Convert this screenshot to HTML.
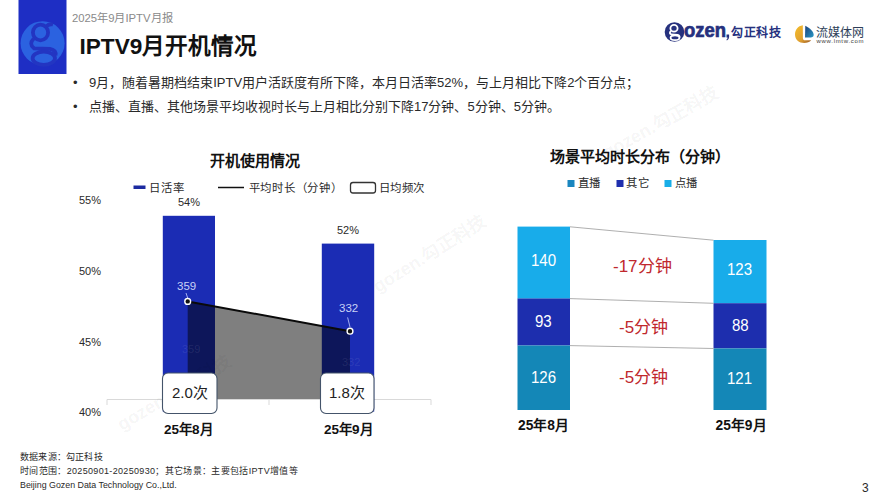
<!DOCTYPE html>
<html lang="zh-CN">
<head>
<meta charset="utf-8">
<style>
html,body{margin:0;padding:0;}
body{width:889px;height:500px;overflow:hidden;background:#fff;position:relative;font-family:"Liberation Sans",sans-serif;color:#2a2a2a;}
.a{position:absolute;white-space:nowrap;line-height:1;}
svg.a{left:0;top:0;}
</style>
</head>
<body>
<!-- header logo block -->
<svg class="a" width="889" height="500" viewBox="0 0 889 500">
  <rect x="18.5" y="0" width="48" height="74" fill="#1e2ec4"/>
  <circle cx="42.6" cy="43.2" r="22" fill="#2b62e0"/>
  <g fill="none" stroke="#2335c2" stroke-width="3.8">
    <ellipse cx="40.5" cy="32.5" rx="7.6" ry="7.8"/>
    <path d="M33.8 38.5 Q28.5 44 34 48.3 L50 48.8 Q56.5 50 55.5 55.5"/>
    <ellipse cx="43.8" cy="58.3" rx="11.2" ry="6.6"/>
    <path d="M46 26.5 Q49 23.5 53 24.5"/>
  </g>
</svg>

<div class="a" style="left:72px;top:12.8px;font-size:11.3px;color:#8a8a8a;">2025年9月IPTV月报</div>
<div class="a" style="left:79.5px;top:35.5px;font-size:22.6px;font-weight:bold;color:#111;">IPTV9月开机情况</div>

<!-- bullets -->
<div class="a" style="left:73px;top:76px;font-size:13px;">•</div>
<div class="a" style="left:89px;top:76px;font-size:13px;">9月，随着暑期档结束IPTV用户活跃度有所下降，本月日活率52%，与上月相比下降2个百分点；</div>
<div class="a" style="left:73px;top:100px;font-size:13px;">•</div>
<div class="a" style="left:89px;top:100px;font-size:13px;">点播、直播、其他场景平均收视时长与上月相比分别下降17分钟、5分钟、5分钟。</div>

<!-- left chart -->
<div class="a" style="left:210px;top:153px;font-size:15px;font-weight:bold;color:#111;">开机使用情况</div>
<div class="a" style="left:148.5px;top:183px;font-size:11.4px;letter-spacing:1px;">日活率</div>
<div class="a" style="left:248.5px;top:183px;font-size:11.4px;letter-spacing:0.75px;">平均时长（分钟）</div>
<div class="a" style="left:378.5px;top:183px;font-size:11.4px;letter-spacing:0.6px;">日均频次</div>

<svg class="a" width="889" height="500" viewBox="0 0 889 500">
  <rect x="133.5" y="185.5" width="12" height="3.5" fill="#1c2aa0"/>
  <line x1="218" y1="187.5" x2="244" y2="187.5" stroke="#111" stroke-width="1.5"/>
  <rect x="350.5" y="182.5" width="25" height="10.5" rx="2.5" fill="#fff" stroke="#333" stroke-width="1.3"/>
  <!-- axis -->
  <line x1="107" y1="399.5" x2="431" y2="399.5" stroke="#d9d9d9" stroke-width="1"/>
  <line x1="107" y1="399.5" x2="107" y2="405" stroke="#d9d9d9" stroke-width="1"/>
  <line x1="269" y1="399.5" x2="269" y2="405" stroke="#d9d9d9" stroke-width="1"/>
  <line x1="431" y1="399.5" x2="431" y2="405" stroke="#d9d9d9" stroke-width="1"/>
  <!-- bars -->
  <rect x="162.8" y="215.8" width="52.2" height="196" fill="#1b2cb4"/>
  <rect x="321.8" y="243.6" width="52.4" height="168" fill="#1b2cb4"/>
  <!-- area -->
  <polygon points="187.7,301.4 350,331.2 350,399 187.7,399" fill="rgba(0,0,0,0.5)"/>
  <line x1="187.7" y1="301.4" x2="350" y2="331.2" stroke="#0a0a0a" stroke-width="2"/>
  <line x1="186" y1="293" x2="187.7" y2="298" stroke="#c8d0ff" stroke-width="0.8"/>
  <line x1="347.6" y1="317.4" x2="350" y2="327" stroke="#c8d0ff" stroke-width="0.8"/>
  <circle cx="187.7" cy="301.4" r="2.9" fill="#111" stroke="#fff" stroke-width="1.4"/>
  <circle cx="350" cy="331.2" r="2.9" fill="#111" stroke="#fff" stroke-width="1.4"/>
</svg>
<!-- watermarks -->
<svg class="a" width="889" height="500" viewBox="0 0 889 500" style="pointer-events:none">
  <g font-family="Liberation Sans" font-weight="bold" font-size="18" fill="rgba(0,0,0,0.05)">
    <text transform="translate(122,431) rotate(-31)">gozen.勾正科技</text>
    <text transform="translate(378,293) rotate(-32)">gozen.勾正科技</text>
    <text transform="translate(607,159) rotate(-29)">gozen.勾正科技</text>
  </g>
</svg>
<svg class="a" width="889" height="500" viewBox="0 0 889 500">
  <rect x="162.5" y="373" width="54.5" height="40.5" rx="5.5" fill="#fff" stroke="#44546a" stroke-width="1.1"/>
  <rect x="320.5" y="373" width="53.5" height="40.5" rx="5.5" fill="#fff" stroke="#44546a" stroke-width="1.1"/>
</svg>
<div class="a" style="left:79px;top:195px;font-size:11px;">55%</div>
<div class="a" style="left:79px;top:265.5px;font-size:11px;">50%</div>
<div class="a" style="left:79px;top:336.5px;font-size:11px;">45%</div>
<div class="a" style="left:79px;top:407px;font-size:11px;">40%</div>
<div class="a" style="left:178px;top:197px;font-size:11px;">54%</div>
<div class="a" style="left:337px;top:225px;font-size:11px;">52%</div>
<div class="a" style="left:177px;top:281px;font-size:11.5px;color:#c9d1f6;">359</div>
<div class="a" style="left:339px;top:303px;font-size:11.5px;color:#c9d1f6;">332</div>
<div class="a" style="left:182px;top:344px;font-size:11px;color:rgba(255,255,255,0.09);">359</div>
<div class="a" style="left:342px;top:357px;font-size:11px;color:rgba(255,255,255,0.09);">332</div>
<div class="a" style="left:172px;top:385px;font-size:15px;color:#222;">2.0次</div>
<div class="a" style="left:329px;top:385px;font-size:15px;color:#222;">1.8次</div>
<div class="a" style="left:164px;top:423px;font-size:13.5px;font-weight:bold;color:#111;">25年8月</div>
<div class="a" style="left:324px;top:423px;font-size:13.5px;font-weight:bold;color:#111;">25年9月</div>

<!-- right chart -->
<div class="a" style="left:550px;top:148.5px;font-size:15px;font-weight:bold;color:#111;">场景平均时长分布（分钟）</div>
<svg class="a" width="889" height="500" viewBox="0 0 889 500">
  <rect x="567.5" y="180" width="7" height="7" fill="#1a86bf"/>
  <rect x="616.5" y="180" width="7" height="7" fill="#1f2fae"/>
  <rect x="664.5" y="180" width="7" height="7" fill="#19aee8"/>
  <rect x="517.5" y="226.6" width="52.5" height="72" fill="#18acea"/>
  <rect x="517.5" y="298.5" width="52.5" height="47" fill="#1d2eae"/>
  <rect x="517.5" y="345.5" width="52.5" height="64.5" fill="#1487b7"/>
  <rect x="713.5" y="240" width="53" height="63.2" fill="#18acea"/>
  <rect x="713.5" y="303.2" width="53" height="45.2" fill="#1d2eae"/>
  <rect x="713.5" y="348.4" width="53" height="61.6" fill="#1487b7"/>
  <line x1="570" y1="226.8" x2="713.5" y2="240.2" stroke="#9a9a9a" stroke-width="0.8"/>
  <line x1="570" y1="298.6" x2="713.5" y2="303.3" stroke="#9a9a9a" stroke-width="0.8"/>
  <line x1="570" y1="345.6" x2="713.5" y2="348.5" stroke="#9a9a9a" stroke-width="0.8"/>
</svg>
<div class="a" style="left:577.5px;top:178px;font-size:11.4px;letter-spacing:0.5px;">直播</div>
<div class="a" style="left:626px;top:178px;font-size:11.4px;letter-spacing:0.5px;">其它</div>
<div class="a" style="left:674.5px;top:178px;font-size:11.4px;letter-spacing:0.5px;">点播</div>
<div class="a" style="left:530.5px;top:252.5px;font-size:16px;color:#fff;transform:scaleX(0.94);transform-origin:0 0;">140</div>
<div class="a" style="left:535px;top:313.5px;font-size:16px;color:#fff;transform:scaleX(0.94);transform-origin:0 0;">93</div>
<div class="a" style="left:530.5px;top:369.5px;font-size:16px;color:#fff;transform:scaleX(0.94);transform-origin:0 0;">126</div>
<div class="a" style="left:727px;top:261.5px;font-size:16px;color:#fff;transform:scaleX(0.94);transform-origin:0 0;">123</div>
<div class="a" style="left:731.5px;top:317.5px;font-size:16px;color:#fff;transform:scaleX(0.94);transform-origin:0 0;">88</div>
<div class="a" style="left:727px;top:370.5px;font-size:16px;color:#fff;transform:scaleX(0.94);transform-origin:0 0;">121</div>
<div class="a" style="left:613px;top:257.5px;font-size:17px;color:#c0282d;">-17分钟</div>
<div class="a" style="left:619px;top:318.5px;font-size:17px;color:#c0282d;">-5分钟</div>
<div class="a" style="left:619px;top:368.5px;font-size:17px;color:#c0282d;">-5分钟</div>
<div class="a" style="left:518px;top:419px;font-size:13.8px;font-weight:bold;color:#111;">25年8月</div>
<div class="a" style="left:715.5px;top:419px;font-size:13.8px;font-weight:bold;color:#111;">25年9月</div>

<!-- footer -->
<div class="a" style="left:20px;top:452.5px;font-size:9px;letter-spacing:0.2px;">数据来源：勾正科技</div>
<div class="a" style="left:20px;top:466.5px;font-size:9px;letter-spacing:0.33px;">时间范围：20250901-20250930；其它场景：主要包括IPTV增值等</div>
<div class="a" style="left:20px;top:481px;font-size:8.85px;">Beijing Gozen Data Technology Co.,Ltd.</div>
<div class="a" style="left:862px;top:482px;font-size:12px;">3</div>

<!-- top-right logos -->
<svg class="a" width="889" height="500" viewBox="0 0 889 500">
  <defs>
    <linearGradient id="og" x1="0" y1="0" x2="1" y2="1">
      <stop offset="0" stop-color="#f4bd2a"/>
      <stop offset="0.6" stop-color="#e0a030"/>
      <stop offset="1" stop-color="#9a5a25"/>
    </linearGradient>
    <linearGradient id="bg2" x1="0" y1="0" x2="1" y2="1">
      <stop offset="0" stop-color="#1a3f7a"/>
      <stop offset="1" stop-color="#2a9ac8"/>
    </linearGradient>
  </defs>
  <circle cx="674.5" cy="32" r="9.8" fill="#26317e"/>
  <g fill="none" stroke="#fff" stroke-width="1.8">
    <ellipse cx="674" cy="28.3" rx="3.6" ry="3.4"/>
    <path d="M671 31 Q668.5 33.5 671.5 34.5 L677.5 34.8 Q680 35.5 679.5 37.5"/>
    <ellipse cx="675" cy="37.8" rx="4.4" ry="2.4"/>
  </g>
  <text x="684" y="37" font-family="Liberation Sans" font-weight="bold" font-size="19.5" fill="#26317e" stroke="#26317e" stroke-width="0.7" textLength="42" lengthAdjust="spacingAndGlyphs">ozen</text>
  <path d="M726.5 34.5 h2.6 v2.5 q0 2.5 -2.2 3.5 l-0.5 -0.8 q1.2 -0.8 1.2 -2.2 h-1.1 z" fill="#26317e"/>
  <text x="731" y="36.8" font-family="Liberation Sans" font-weight="bold" font-size="12.5" fill="#26317e" textLength="50" lengthAdjust="spacingAndGlyphs">勾正科技</text>
  <path d="M802.8 25.3 C797.8 26 795 30 795 34.5 C795 39.5 799 43 804.2 43 C807.2 43 809.6 42 811.2 40.3 L805.2 40.3 C803.7 40.3 802.9 39.5 802.9 38 Z" fill="url(#og)"/>
  <path d="M805.3 25.8 C810 28 813.7 32 813.7 35 C813.7 37 811.8 37.6 809.2 37.6 L805 37.6 Z" fill="url(#bg2)"/>
  <text x="816" y="36.5" font-family="Liberation Serif" font-weight="normal" font-size="12" fill="#2d3e58" textLength="48" lengthAdjust="spacingAndGlyphs">流媒体网</text>
  <text x="816.5" y="43.2" font-family="Liberation Sans" font-size="6" fill="#3a3a3a" textLength="47" lengthAdjust="spacing">www.lmtw.com</text>
</svg>
</body>
</html>
